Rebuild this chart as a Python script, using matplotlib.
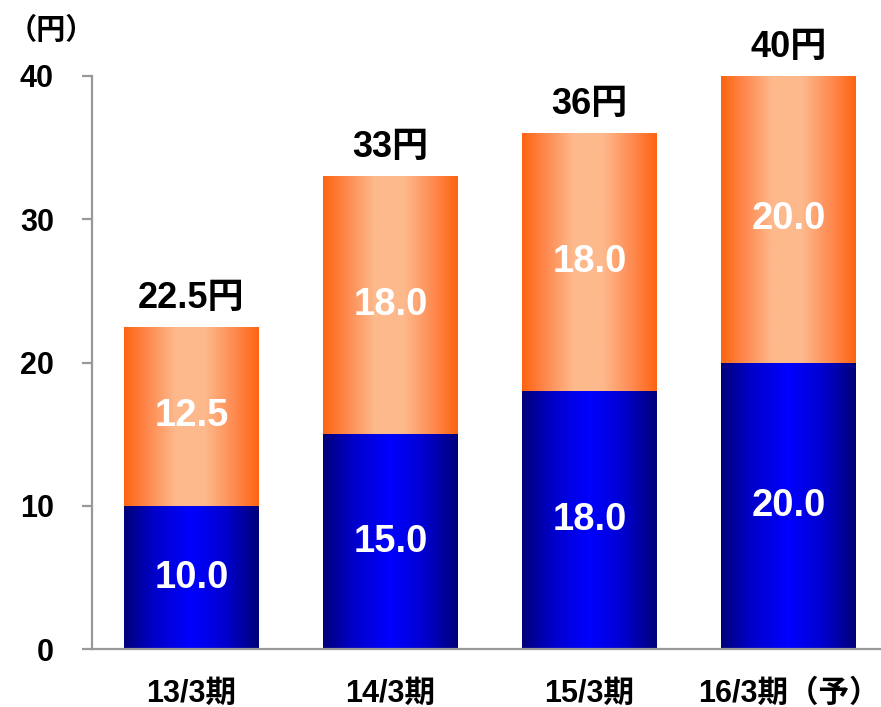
import numpy as np
import matplotlib
matplotlib.use("Agg")
import matplotlib.pyplot as plt
from matplotlib.colors import LinearSegmentedColormap
from matplotlib.patches import Rectangle

plt.rcParams['font.family'] = ['Liberation Sans', 'Noto Sans CJK JP', 'DejaVu Sans']
plt.rcParams['font.weight'] = 'bold'

categories = ['13/3期', '14/3期', '15/3期', '16/3期（予）']
interim = [10.0, 15.0, 18.0, 20.0]
year_end = [12.5, 18.0, 18.0, 20.0]
totals = ['22.5円', '33円', '36円', '40円']
yticks = [0, 10, 20, 30, 40]

fig = plt.figure(figsize=(8.81, 7.07), dpi=100)
ax = fig.add_axes([92 / 881, 57.7 / 707, 796 / 881, 573.5 / 707])
ax.set_xlim(-0.5, 3.5)
ax.set_ylim(0, 40)

# horizontal shading across each bar: dark edges, bright middle
blue_cmap = LinearSegmentedColormap.from_list(
    'bluebar', [(0.0, '#00007A'), (0.22, '#0000C8'), (0.5, '#0000FF'),
                (0.75, '#0000D0'), (1.0, '#00007A')])
orange_cmap = LinearSegmentedColormap.from_list(
    'orangebar', [(0.0, '#FF6410'), (0.18, '#FE8A50'), (0.38, '#FDB98C'),
                  (0.6, '#FDB98C'), (0.82, '#FE8A50'), (1.0, '#FF6410')])
grad = np.linspace(0, 1, 256).reshape(1, -1)

width = 0.675
x = np.arange(len(categories))


def shaded_bar(xc, y0, h, cmap):
    left = xc - width / 2
    im = ax.imshow(grad, cmap=cmap, aspect='auto', interpolation='bilinear',
                   extent=(left, left + width, y0, y0 + h), zorder=2)
    clip = Rectangle((left, y0), width, h, transform=ax.transData,
                     facecolor='none', edgecolor='none')
    ax.add_patch(clip)
    im.set_clip_path(clip)


for xi, a, b, t in zip(x, interim, year_end, totals):
    shaded_bar(xi, 0, a, blue_cmap)
    shaded_bar(xi, a, b, orange_cmap)
    ax.text(xi, a / 2, f'{a:.1f}', ha='center', va='center', color='white',
            fontsize=27.5, fontweight='bold', zorder=3)
    ax.text(xi, a + b / 2, f'{b:.1f}', ha='center', va='center', color='white',
            fontsize=27.5, fontweight='bold', zorder=3)
    ax.annotate(t, (xi, a + b), xytext=(0, 13.5), textcoords='offset points',
                ha='center', va='baseline', fontsize=26, fontweight='bold',
                color='black', zorder=3)

ax.set_xlim(-0.5, 3.5)
ax.set_ylim(0, 40)

for s in ['top', 'right']:
    ax.spines[s].set_visible(False)
for s in ['left', 'bottom']:
    ax.spines[s].set_color('#999999')
    ax.spines[s].set_linewidth(1.6)
    ax.spines[s].set_zorder(4)

ax.set_yticks(yticks)
ax.set_yticklabels([str(v) for v in yticks], fontsize=22, fontweight='bold')
ax.tick_params(axis='y', direction='out', length=7.5, width=1.6,
               color='#999999', pad=20)
ax.set_xticks(x)
ax.set_xticklabels(categories, fontsize=22, fontweight='bold')
ax.tick_params(axis='x', length=0, pad=21)

fig.text(8 / 881, 1 - 31 / 707, '（円）', ha='left', va='center',
         fontsize=21, fontweight='bold')

fig.savefig('out.png', dpi=100)
